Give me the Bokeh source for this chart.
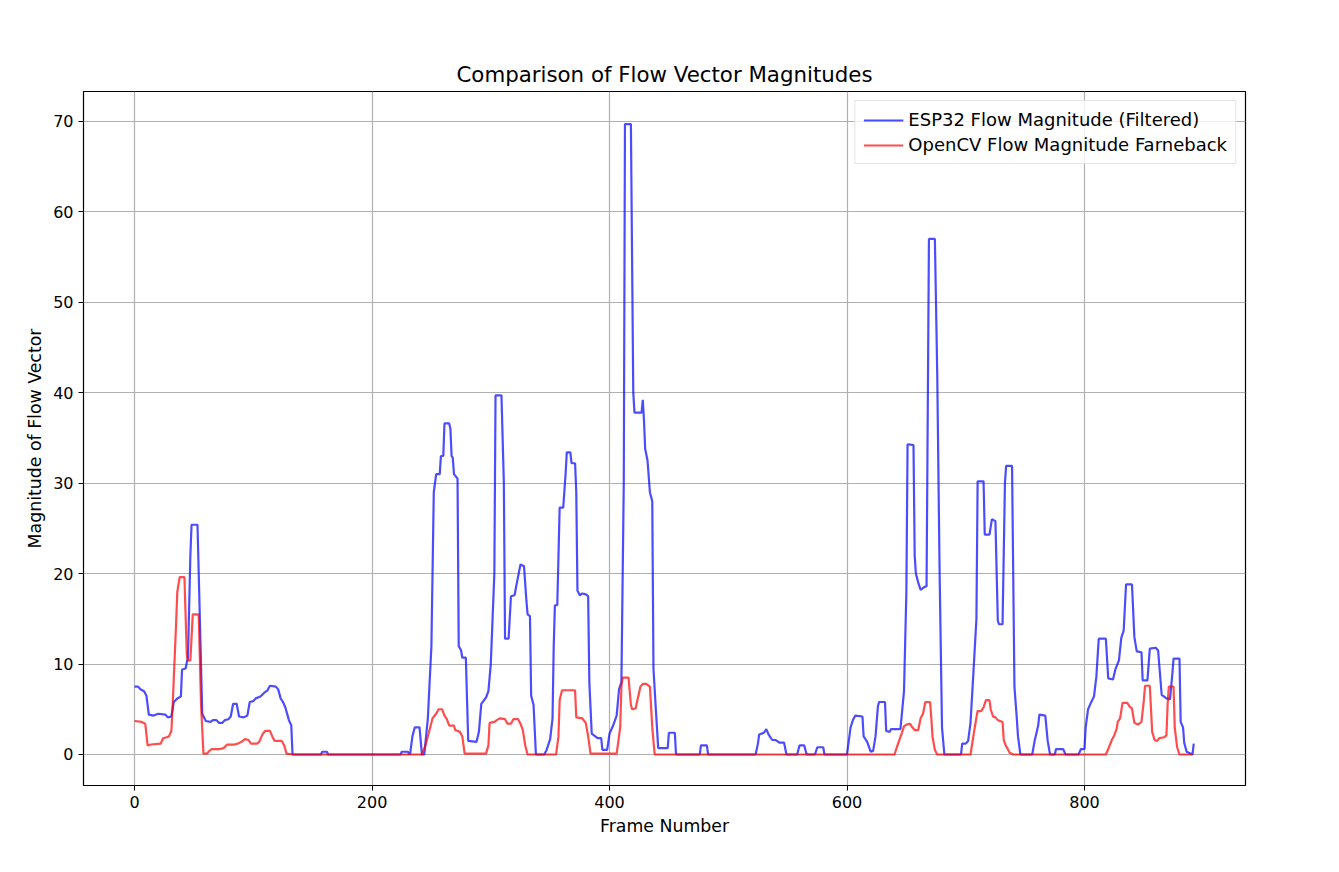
from bokeh.models import Range1d, Legend, LegendItem
from bokeh.plotting import figure
from bokeh.embed import file_html
from bokeh.resources import INLINE

# breakpoints (frame, magnitude)
esp_x = [0, 3, 5, 8, 10, 12, 16, 20, 26, 28, 31, 33, 36, 39, 40, 43, 45, 47, 48, 53, 55, 57, 60, 64, 66, 69, 71, 74, 76, 79, 81, 83, 86, 88, 92, 95, 97, 100, 102, 106, 109, 112, 114, 119, 121, 123, 125, 127, 130, 132, 133,
         157, 158, 162, 163, 224, 225, 230, 232, 234, 236, 240, 242, 244, 247, 250, 252, 254, 257, 258, 260, 261, 265, 266, 267, 268, 269, 272, 273, 275, 276, 279, 281, 288, 290, 292, 296, 298, 300, 303, 304, 309, 311, 312, 315, 317, 320, 322, 325, 328, 330, 331, 333, 334, 336, 338,
         345, 347, 350, 352, 353, 354, 356, 358, 361, 363, 364, 367, 368, 371, 372, 373, 375, 377, 380, 382, 383, 385, 388, 390, 393, 394, 398, 400, 403, 406, 408, 410, 412, 413, 418, 420, 421, 427, 428, 429, 430, 432, 434, 436, 437, 439, 441, 449, 450, 455, 456,
         476, 477, 482, 483, 523, 525, 526, 530, 532, 534, 537, 540, 543, 547, 549, 558, 560, 564, 566, 573, 575, 580, 581, 600, 603, 605, 607, 613, 614, 617, 620, 622, 624, 626, 627, 632, 633, 636, 637, 645, 648, 650, 651, 656, 657, 658, 660, 662, 665, 667, 669, 674, 676, 678, 680, 682,
         696, 697, 700, 702, 704, 706, 709, 710, 715, 716, 720, 722, 725, 727, 728, 731, 733, 734, 739, 741, 743, 744, 746, 756, 758, 761, 762, 767, 769, 771, 775, 776, 782, 784, 795, 797, 800, 801, 803, 805, 808, 810, 812, 818, 820, 824, 826, 829, 831, 833, 835, 840, 842, 844, 848, 849, 853, 855, 860, 862, 865, 869, 872, 874, 875, 880, 881, 883, 884, 886, 891, 892]
esp_y = [7.5, 7.5, 7.2, 7.0, 6.5, 4.4, 4.3, 4.5, 4.4, 4.1, 4.2, 5.8, 6.2, 6.4, 9.4, 9.5, 10.8, 22, 25.4, 25.4, 15, 4.5, 3.7, 3.6, 3.8, 3.8, 3.5, 3.5, 3.8, 3.9, 4.2, 5.6, 5.6, 4.2, 4.1, 4.3, 5.8, 5.9, 6.2, 6.4, 6.8, 7.1, 7.6, 7.5, 7.2, 6.2, 5.8, 5.2, 3.8, 3.2, 0,
         0, 0.3, 0.3, 0, 0, 0.3, 0.3, 0, 2, 3, 3, 0, 0, 4, 12, 29, 31, 31, 33, 33, 36.6, 36.6, 36, 33, 32.8, 31, 30.5, 12, 11.5, 10.7, 10.7, 1.5, 1.4, 2.5, 5.6, 6.3, 7.0, 10, 20, 39.7, 39.7, 30, 12.8, 12.8, 17.5, 17.6, 19, 21, 20.8, 17, 15.5, 15.3, 6.5, 5.5, 0,
         0, 0.5, 1.7, 4, 12, 16.5, 16.5, 27.3, 27.3, 31, 33.4, 33.4, 32.2, 32.2, 29, 18.1, 17.6, 17.8, 17.7, 17.5, 8, 2.3, 2, 1.8, 1.8, 0.5, 0.5, 2.3, 3.2, 4.3, 7.2, 8, 30, 69.7, 69.7, 40, 37.8, 37.8, 39.2, 37, 33.8, 32.5, 29, 28, 9.5, 5, 0.7, 0.7, 2.4, 2.4, 0,
         0, 1, 1, 0, 0, 1.2, 2.2, 2.4, 2.8, 2.2, 1.6, 1.6, 1.3, 1.3, 0, 0, 1, 1, 0, 0, 0.8, 0.8, 0, 0, 3, 3.8, 4.3, 4.2, 2, 1.4, 0.3, 0.4, 2, 5.3, 5.8, 5.8, 2.6, 2.5, 2.8, 2.8, 7, 18, 34.3, 34.2, 22, 20, 19, 18.2, 18.5, 18.6, 57, 57, 42, 20, 3, 0,
         0, 1.2, 1.2, 1.5, 3.5, 8, 15, 30.2, 30.2, 24.3, 24.3, 26, 25.8, 14.8, 14.4, 14.4, 30, 31.9, 31.9, 7.5, 4, 2, 0, 0, 1.5, 3.2, 4.4, 4.3, 1.5, 0, 0, 0.6, 0.6, 0, 0, 0.6, 0.6, 3, 5, 5.6, 6.4, 8.6, 12.8, 12.8, 8.4, 8.3, 9.4, 10.4, 12.9, 13.7, 18.8, 18.8, 13, 11.4, 11.3, 8.2, 8.2, 11.7, 11.8, 11.5, 6.6, 6.2, 6.1, 8.9, 10.6, 10.6, 3.6, 3, 1.3, 0.3, 0, 1.2]

cv_x = [0, 6, 9, 11, 14, 22, 24, 27, 29, 31, 32, 35, 36, 38, 42, 44, 45, 47, 49, 54, 56, 58, 61, 63, 65, 72, 75, 78, 84, 87, 90, 93, 96, 98, 103, 105, 108, 110, 114, 116, 118, 124, 126, 128, 134,
        242, 245, 249, 251, 254, 256, 259, 261, 263, 265, 269, 270, 274, 276, 278, 296, 298, 299, 303, 305, 308, 312, 314, 317, 319, 323, 325, 327, 329, 331,
        355, 357, 358, 360, 371, 372, 377, 380, 382, 384, 406, 409, 410, 411, 416, 418, 419, 422, 424, 426, 428, 431, 434, 436, 438,
        640, 643, 646, 648, 650, 653, 655, 657, 660, 662, 664, 666, 670, 671, 672, 674, 676, 704, 707, 709, 710, 713, 715, 717, 720, 721, 723, 725, 727, 731, 732, 734, 735, 737, 740,
        818, 820, 823, 825, 827, 828, 830, 832, 836, 838, 840, 842, 845, 848, 850, 851, 855, 857, 859, 861, 863, 867, 869, 870, 871, 875, 876, 878, 880, 891]
cv_y = [3.7, 3.6, 3.4, 1, 1.1, 1.2, 1.8, 1.9, 2.0, 2.6, 5.2, 14.5, 18, 19.6, 19.6, 11, 10.4, 10.4, 15.5, 15.5, 5.5, 0.1, 0.1, 0.4, 0.6, 0.6, 0.7, 1.1, 1.1, 1.2, 1.4, 1.7, 1.6, 1.2, 1.2, 1.4, 2.3, 2.6, 2.6, 2.0, 1.5, 1.5, 1.0, 0.1, 0,
        0, 1, 3, 4, 4.5, 5.0, 5.0, 4.3, 3.9, 3.2, 3.2, 2.7, 2.5, 2.0, 0.1, 0.1, 1, 3.5, 3.6, 3.8, 4.0, 3.9, 3.4, 3.4, 3.9, 3.9, 3.4, 2.7, 1, 0,
        0, 2, 6, 7.1, 7.1, 4.1, 4.0, 3.5, 2, 0.1, 0.1, 3, 7.5, 8.5, 8.5, 5.5, 5, 5.1, 6.3, 7.5, 7.8, 7.8, 7.5, 3, 0,
        0, 1.2, 2.3, 3.1, 3.3, 3.4, 3.0, 2.7, 2.7, 4, 4.5, 5.8, 5.8, 4, 2, 0.5, 0, 0, 2.5, 4.1, 4.8, 4.8, 5.2, 6, 6, 5.0, 4.2, 4.1, 3.8, 3.6, 1.6, 0.9, 0.7, 0.2, 0,
        0, 0.6, 1.6, 2.1, 2.8, 3.6, 4.0, 5.7, 5.7, 5.3, 5.1, 3.5, 3.3, 3.6, 6, 7.6, 7.6, 2.5, 1.6, 1.5, 1.8, 1.9, 2.1, 5.5, 7.5, 7.5, 3, 0.8, 0, 0]

x_ticks = [0, 200, 400, 600, 800]
y_ticks = [0, 10, 20, 30, 40, 50, 60, 70]

p = figure(width=1331, height=864, output_backend="svg", toolbar_location=None,
           x_range=Range1d(-43, 935.6), y_range=Range1d(-3.43, 73.3),
           min_border_left=83, min_border_right=86, min_border_top=91, min_border_bottom=79,
           title="Comparison of Flow Vector Magnitudes",
           x_axis_label="Frame Number", y_axis_label="Magnitude of Flow Vector")
p.title.align = "center"
p.title.text_font = "DejaVu Sans"
p.title.text_font_size = "16pt"
p.title.text_font_style = "normal"
p.title.text_color = "black"
p.outline_line_color = "black"
p.outline_line_width = 1.2
for ax in (p.xaxis, p.yaxis):
    ax.axis_label_text_font = "DejaVu Sans"
    ax.axis_label_text_font_size = "13pt"
    ax.axis_label_text_font_style = "normal"
    ax.axis_label_text_color = "black"
    ax.major_label_text_font = "DejaVu Sans"
    ax.major_label_text_font_size = "12pt"
    ax.major_label_text_color = "black"
    ax.minor_tick_line_color = None
    ax.major_tick_line_color = "black"
    ax.major_tick_out = 5
    ax.major_tick_in = 0
    ax.axis_line_color = None
p.xaxis.ticker = x_ticks
p.yaxis.ticker = y_ticks
p.grid.grid_line_color = "#b0b0b0"
p.grid.grid_line_width = 1.2

r1 = p.line(esp_x, esp_y, line_color="blue", line_alpha=0.7, line_width=2.2)
r2 = p.line(cv_x, cv_y, line_color="red", line_alpha=0.7, line_width=2.2)

legend = Legend(items=[LegendItem(label="ESP32 Flow Magnitude (Filtered)", renderers=[r1]),
                       LegendItem(label="OpenCV Flow Magnitude Farneback", renderers=[r2])],
                location="top_right", label_text_font="DejaVu Sans", label_text_font_size="13.5pt",
                label_text_color="black", border_line_color="#cccccc", background_fill_alpha=0.8,
                glyph_width=40, spacing=4, margin=9, padding=8)
p.add_layout(legend)

open("out.html", "w").write(file_html(p, INLINE))
